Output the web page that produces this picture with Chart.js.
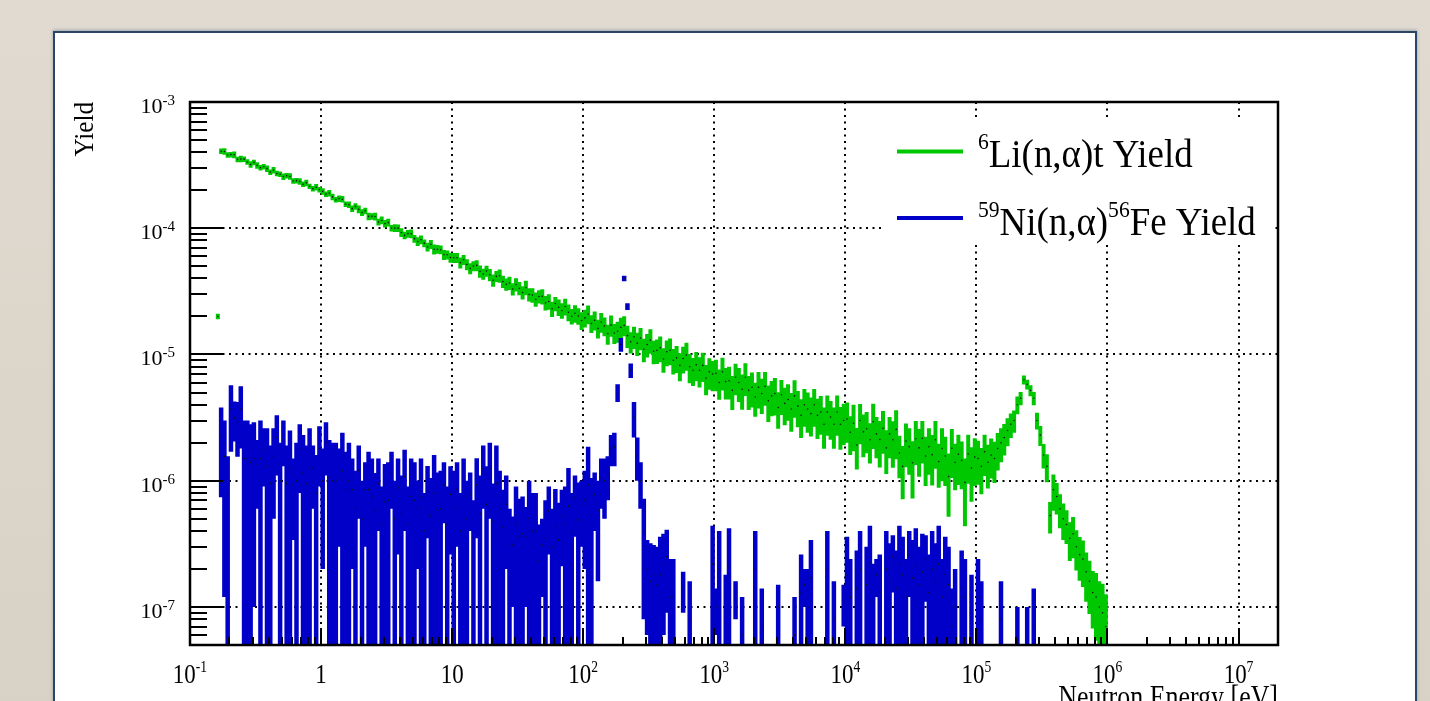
<!DOCTYPE html>
<html>
<head>
<meta charset="utf-8">
<script src="https://cdn.jsdelivr.net/npm/chart.js@4.4.1/dist/chart.umd.min.js"></script>
<style>
html,body{margin:0;padding:0;width:1430px;height:701px;overflow:hidden;}
body{background:linear-gradient(180deg,#e0dad0 0%,#dcd5ca 60%,#d8d1c5 100%);position:relative;}
#panel{position:absolute;left:53px;top:31px;width:1364px;height:720px;box-sizing:border-box;background:#ffffff;border:2px solid #2a4565;box-shadow:0 -1px 3px rgba(40,70,110,0.35);}
#c{position:absolute;left:0;top:0;}
</style>
</head>
<body>
<div id="panel"></div>
<canvas id="c" width="1430" height="701"></canvas>
<script>
// ---------------- data ----------------
// Histogram binning: log bins, 40 per decade, starting at 0.1 eV; first filled bin is bin 8
const xMinEdge = 0.1;
const binsPerDecade = 40;
const firstBin = 8;

// 6Li(n,alpha)t yield, units of 1e-7 (bins 8..279)
const liYield = [200,
4070,4056,3807,3834,3819,3514,3540,3527,3345,3202,3322,3151,3016,3068,2967,2785,2889,2713,2677,2564,2607,2572,2366,2383,2351,2230,2289,2149,2057,2113,2025,
1960,1863,1899,1771,1683,1717,1698,1552,1536,1430,1489,1416,1333,1372,1242,1241,1240,1121,1156,1088,
1109,1003,1003,1002,925,878,906,904,827,786,810,762,710,746,682,682,675,616,616,586,
583,584,534,563,516,481,502,508,456,434,458,428,387,416,421,378,360,368,330,358,335,310,339,299,296,274,288,289,257,263,230,253,237,223,240,216,201,212,202,186,
195,209,176,187,161,181,168,146,171,148,153,164,170,141,126,138,123,135,110,120,130,106,108,113,92,105,108,90,94,82,93,99,80,75,83,75,82,65,73,70,
71,60,73,61,62,52,66,60,53,66,52,55,46,55,49,56,43,47,49,38,48,41,44,37,47,39,33,40,37,34,40,33,35,28,35,32,28,35,28,30,
30.8,24.2,28.5,19.2,30.0,24.4,25.8,21.1,29.3,23.5,21.2,26.0,18.2,23.5,21.1,25.5,16.6,13.0,20.6,18.6,13.9,21.5,18.2,21.7,15.7,18.6,16.1,21.1,14.2,18.0,15.7,10.8,18.1,14.0,16.2,14.5,9.7,16.3,12.6,15.4,
15,13,17,14,16,15,18,20,22,25,28,30,40,45,63,58,52,45,30,23,16,13,5.3,8.5,7.5,6,5,4.5,3.5,3.8,3,2.6,2.4,1.9,1.6,1.3,1.2,1.0,0.9,0.7];

// relative error of the 6Li yield, percent
const liRelErr = [5,
5,6,5,5,6,5,6,5,5,6,5,6,5,5,6,5,6,5,5,6,5,6,5,5,6,5,6,5,5,6,5,
6,5,6,6,5,6,6,5,6,6,6,7,6,6,7,6,7,6,7,7,7,6,7,7,8,7,7,8,7,8,8,7,8,8,9,8,8,9,8,9,
9,9,10,9,10,10,9,10,11,10,10,11,11,10,12,11,11,12,11,12,12,12,13,12,13,13,12,14,13,14,14,13,15,14,15,15,14,16,15,16,
16,17,16,17,17,18,17,18,19,18,19,19,18,20,19,20,21,20,21,21,22,21,22,23,22,23,24,23,24,25,24,25,26,25,26,27,26,27,28,27,
28,27,29,28,29,30,28,30,31,29,30,31,30,32,31,30,32,31,33,32,31,33,32,34,33,32,34,33,35,34,33,35,34,36,35,34,36,35,37,36,
35,34,40,36,35,37,36,35,39,36,40,37,38,36,40,42,37,45,38,40,48,38,41,37,42,40,43,41,38,45,42,52,42,40,43,41,55,42,46,41,
38,40,36,38,35,36,33,30,28,25,22,20,16,12,8,9,10,12,15,18,22,25,28,32,28,30,32,30,34,36,35,38,40,42,45,48,55,60,70,80];

// 59Ni(n,alpha)56Fe yield and its error, units of 1e-8 (bins 8..279), null = empty bin
const niYield = [null,
227,156,78,370,315,288,370,150,150,140,150,135,150,175,130,95,155,220,100,215,95,125,92,100,180,115,95,130,125,80,180,
100,200,105,100,100,105,120,85,100,85,
60,120,50,85,85,75,58,95,45,68,
70,115,50,88,55,108,45,75,70,60,
75,40,83,53,80,58,60,93,45,78,
60,85,40,75,50,78,35,93,55,125,
65,125,48,95,60,43,65,30,31,45,
36,38,36,50,40,40,23,31,35,58,
30,43,34,53,45,63,40,73,49,65,
70,93,53,78,58,105,100,113,180,185,
500,1200,4000,2400,750,320,160,100,40,20,
16,18,15,18,22,25,12,12,null,null,
14,null,8,null,null,null,null,null,null,22,
10,20,null,9,21,null,12,null,6,null,
null,null,20,null,7,null,null,null,null,10,
null,null,null,null,6,null,13,15,10,17,
null,null,null,null,20,null,8,null,null,11,
18,12,null,14,20,null,15,22,11,18,
13,null,20,16,25,14,22,18,12,26,
17,21,15,19,24,13,20,16,22,12,
18,15,7,10,null,14,12,null,9,null,
12,8,null,null,null,null,null,8,null,null,
null,null,5,null,null,5,null,7,null,null,
null,null,null,null,null,null,null,null,null,null,
null,null,null,null,null,null,null,null,null,null];

const niErr = [null,
153,144,78,200,110,133,190,150,150,140,140,75,150,85,130,95,105,110,100,85,95,125,58,100,100,115,95,130,65,80,90,
80,90,105,100,100,75,120,85,100,65,
60,70,50,55,85,75,57,55,45,68,
70,55,50,62,55,68,45,75,70,40,
75,40,48,52,80,58,60,47,45,52,
60,55,40,75,50,38,35,58,55,65,
65,75,47,95,60,42,45,30,21,45,
36,37,26,50,40,40,22,19,35,32,
30,43,33,32,45,63,40,37,48,35,
50,93,52,38,42,45,50,43,50,55,
80,150,200,150,100,100,60,40,32,14,
16,13,15,18,16,16,12,12,null,null,
5,null,8,null,null,null,null,null,null,22,
4,20,null,9,21,null,4,null,6,null,
null,null,20,null,7,null,null,null,null,5,
null,null,null,null,6,null,13,5,10,17,
null,null,null,null,20,null,8,null,null,4,
18,12,null,14,20,null,15,22,11,6,
13,null,20,16,12,14,22,18,12,14,
17,21,15,19,13,13,20,16,22,12,
18,15,7,10,null,14,12,null,9,null,
12,8,null,null,null,null,null,8,null,null,
null,null,5,null,null,5,null,7,null,null,
null,null,null,null,null,null,null,null,null,null,
null,null,null,null,null,null,null,null,null,null];

// axis decades and tick labels
const xTickValues = [0.1,1,10,100,1e3,1e4,1e5,1e6,1e7];
const xTickLabels = [['10','-1'],['1',''],['10',''],['10','2'],['10','3'],['10','4'],['10','5'],['10','6'],['10','7']];
const yTickValues = [1e-7,1e-6,1e-5,1e-4,1e-3];
const yTickLabels = [['10','-7'],['10','-6'],['10','-5'],['10','-4'],['10','-3']];

const seriesNames = [
  [{t:'6',sup:true},{t:'Li(n,\u03b1)t Yield'}],
  [{t:'59',sup:true},{t:'Ni(n,\u03b1)'},{t:'56',sup:true},{t:'Fe Yield'}]
];
const GREEN = '#00c800';
const BLUE = '#0000c8';

// ---------------- build datasets ----------------
const energies = liYield.map((_, k) => xMinEdge * Math.pow(10, (firstBin + k + 0.5) / binsPerDecade));
function barPoints(vals, errs) {
  const pts = [];
  vals.forEach((v, k) => {
    if (v == null) return;
    const e = errs[k];
    const lo = v - e > 0 ? v - e : 1e-10;
    pts.push({x: energies[k], y: lo}, {x: energies[k], y: v + e}, {x: energies[k], y: null});
  });
  return pts;
}
const liV = liYield.map(v => v * 1e-7);
const liE = liYield.map((v, k) => v * 1e-7 * liRelErr[k] / 100);
const niV = niYield.map(v => v == null ? null : v * 1e-8);
const niE = niErr.map(v => v == null ? null : v * 1e-8);
const markers = (vals) => vals.map((v, k) => v == null ? null : {x: energies[k], y: v}).filter(p => p);

const FONT = '"Liberation Serif","Times New Roman",serif';
function richWidth(ctx, parts, size, supSize) {
  let w = 0;
  for (const p of parts) { ctx.font = (p.sup ? supSize : size) + 'px ' + FONT; w += ctx.measureText(p.t).width; }
  return w;
}
function drawRich(ctx, x, y, parts, o) {
  const sx = o.sx || 1;
  const w = richWidth(ctx, parts, o.size, o.sup) * sx;
  const x0 = o.align === 'center' ? x - w / 2 : (o.align === 'right' ? x - w : x);
  ctx.save();
  ctx.translate(x0, y);
  ctx.scale(sx, 1);
  ctx.fillStyle = '#000';
  ctx.textBaseline = 'alphabetic';
  let cx = 0;
  for (const p of parts) {
    ctx.font = (p.sup ? o.sup : o.size) + 'px ' + FONT;
    ctx.fillText(p.t, cx, p.sup ? -o.rise : 0);
    cx += ctx.measureText(p.t).width;
  }
  ctx.restore();
}

const rootAxes = {
  id: 'rootAxes',
  beforeDatasetsDraw(chart) {
    const {ctx, chartArea: a, scales: {x, y}} = chart;
    ctx.save();
    ctx.strokeStyle = '#000';
    ctx.lineWidth = 2;
    ctx.setLineDash([2, 4.5]);
    xTickValues.forEach(v => {
      if (v <= x.min || v >= x.max) return;
      const px = Math.round(x.getPixelForValue(v));
      ctx.beginPath(); ctx.moveTo(px, a.top); ctx.lineTo(px, a.bottom); ctx.stroke();
    });
    yTickValues.forEach(v => {
      if (v <= y.min || v >= y.max) return;
      const py = Math.round(y.getPixelForValue(v));
      ctx.beginPath(); ctx.moveTo(a.left, py); ctx.lineTo(a.right, py); ctx.stroke();
    });
    ctx.restore();
  },
  afterDatasetsDraw(chart) {
    const {ctx, chartArea: a, scales: {x, y}} = chart;
    ctx.save();
    ctx.strokeStyle = '#000';
    ctx.lineWidth = 2;
    for (let d = -1; d <= 7; d++) {
      for (let m = 1; m <= 9; m++) {
        const v = m * Math.pow(10, d);
        if (v < x.min || v > x.max) continue;
        const px = Math.round(x.getPixelForValue(v));
        const len = m === 1 ? 17 : 8;
        ctx.beginPath(); ctx.moveTo(px, a.bottom); ctx.lineTo(px, a.bottom - len); ctx.stroke();
      }
    }
    for (let d = -8; d <= -3; d++) {
      for (let m = 1; m <= 9; m++) {
        const v = m * Math.pow(10, d);
        if (v < y.min * 0.999 || v > y.max * 1.001) continue;
        const py = Math.round(y.getPixelForValue(v));
        const len = m === 1 ? 33 : 17;
        ctx.beginPath(); ctx.moveTo(a.left, py); ctx.lineTo(a.left + len, py); ctx.stroke();
      }
    }
    ctx.lineWidth = 2.5;
    ctx.strokeRect(a.left, a.top, a.right - a.left, a.bottom - a.top);
    ctx.restore();

    xTickValues.forEach((v, i) => {
      const px = x.getPixelForValue(v);
      const lab = xTickLabels[i];
      const parts = [{t: lab[0]}];
      if (lab[1]) parts.push({t: lab[1], sup: true});
      drawRich(ctx, px, a.bottom + 38, parts, {size: 27, sup: 16, rise: 11, sx: 0.85, align: 'center'});
    });
    yTickValues.forEach((v, i) => {
      const py = y.getPixelForValue(v);
      const lab = yTickLabels[i];
      drawRich(ctx, a.left - 15, py + 11, [{t: lab[0]}, {t: lab[1], sup: true}], {size: 22, sup: 15, rise: 8, sx: 1, align: 'right'});
    });
    drawRich(ctx, a.right, a.bottom + 62, [{t: 'Neutron Energy [eV]'}], {size: 32, sup: 20, rise: 0, sx: 0.81, align: 'right'});
    ctx.save();
    ctx.translate(93, a.top);
    ctx.rotate(-Math.PI / 2);
    drawRich(ctx, 0, 0, [{t: 'Yield'}], {size: 28, sup: 18, rise: 0, sx: 0.9, align: 'right'});
    ctx.restore();

    // legend
    ctx.save();
    ctx.fillStyle = '#fff';
    ctx.fillRect(884, 117, 391, 126);
    ctx.lineWidth = 4;
    ctx.strokeStyle = GREEN;
    ctx.beginPath(); ctx.moveTo(897, 151.5); ctx.lineTo(963, 151.5); ctx.stroke();
    ctx.strokeStyle = BLUE;
    ctx.beginPath(); ctx.moveTo(897, 218); ctx.lineTo(963, 218); ctx.stroke();
    ctx.restore();
    drawRich(ctx, 978, 166.5, seriesNames[0], {size: 41, sup: 24, rise: 18, sx: 0.9, align: 'left'});
    drawRich(ctx, 978, 235, seriesNames[1], {size: 41, sup: 24, rise: 18, sx: 0.9, align: 'left'});
  }
};

const chart = new Chart(document.getElementById('c').getContext('2d'), {
  type: 'line',
  data: {
    datasets: [
      {label: 'ni-markers', data: markers(niV), showLine: false, pointRadius: 0.8, pointBackgroundColor: '#111', pointBorderWidth: 0, order: 0, clip: 0},
      {label: 'Ni', data: barPoints(niV, niE), borderColor: BLUE, borderWidth: 4.5, pointRadius: 0, spanGaps: false, order: 1, clip: 0, borderCapStyle: 'butt'},
      {label: 'li-markers', data: markers(liV), showLine: false, pointRadius: 0.8, pointBackgroundColor: '#111', pointBorderWidth: 0, order: 2, clip: 0},
      {label: 'Li', data: barPoints(liV, liE), borderColor: GREEN, borderWidth: 4, pointRadius: 0, spanGaps: false, order: 3, clip: 0, borderCapStyle: 'butt'}
    ]
  },
  options: {
    responsive: false,
    animation: false,
    devicePixelRatio: 1,
    layout: {padding: {left: 190, top: 102, right: 152, bottom: 56}},
    plugins: {legend: {display: false}, tooltip: {enabled: false}, title: {display: false}},
    scales: {
      x: {type: 'logarithmic', min: 0.1, max: 2e7, display: false},
      y: {type: 'logarithmic', min: 5e-8, max: 1e-3, display: false}
    }
  },
  plugins: [rootAxes]
});
</script>
</body>
</html>
